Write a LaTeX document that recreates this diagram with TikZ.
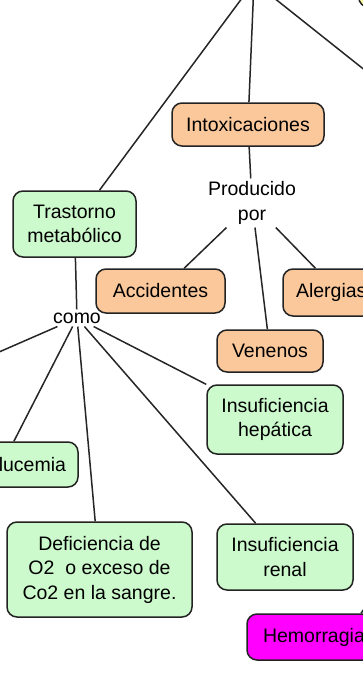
\documentclass[tikz,border=0pt]{standalone}
\usepackage{fontspec}
\setmainfont{Liberation Sans}
\definecolor{peach}{RGB}{250,200,155}
\definecolor{mint}{RGB}{204,250,204}
\definecolor{mag}{RGB}{255,0,255}
\definecolor{pale}{RGB}{255,252,160}
\definecolor{edge}{RGB}{35,35,35}
\tikzset{
  box/.style={draw=edge, line width=1.5pt, rounded corners=10pt, inner sep=0pt, align=center},
  pbox/.style={box, fill=peach},
  gbox/.style={box, fill=mint},
  mbox/.style={box, fill=mag},
  ybox/.style={box, fill=pale},
  lbl/.style={inner sep=3pt, align=center},
  conn/.style={draw=black!85, line width=1.5pt},
}
\begin{document}
\begin{tikzpicture}[x=1pt, y=-1pt, font=\fontsize{19.5}{24.5}\selectfont]
\useasboundingbox (0,0) rectangle (363,686);
\clip (0,0) rectangle (363,686);
\fill[white] (0,0) rectangle (363,686);

% off-image anchors
\coordinate (topc) at (254,-18);
\coordinate (offr) at (420,114);
\coordinate (offl) at (-150,417);
\coordinate (offh) at (372,598);

% nodes
\node[ybox, minimum width=80pt, minimum height=50pt, anchor=south west] (topr) at (358,8) {};
\node[pbox, minimum width=152pt, minimum height=43pt] (intox) at (248,124.5) {Intoxicaciones};
\node[gbox, minimum width=123pt, minimum height=66pt] (tras) at (74.5,224) {Trastorno\\metabólico};
\node[lbl] (prod) at (252,203) {Producido\\por};
\node[pbox, minimum width=129pt, minimum height=44pt] (acc) at (160.5,291) {Accidentes};
\node[pbox, minimum width=112pt, minimum height=47pt, text width=86pt, align=left] (aler) at (339,292.5) {Alergias};
\node[pbox, minimum width=106pt, minimum height=42pt] (ven) at (270,351) {Venenos};
\node[lbl] (como) at (77,318) {como};
\node[gbox, minimum width=136pt, minimum height=69pt] (hep) at (275,419.5) {Insuficiencia\\hepática};
\node[gbox, minimum width=152pt, minimum height=45pt, text width=128pt, align=right] (glu) at (2,464.5) {lucemia};
\node[gbox, minimum width=185pt, minimum height=95pt] (def) at (99.5,569.5) {Deficiencia de\\O2~ o exceso de\\Co2 en la sangre.};
\node[gbox, minimum width=136pt, minimum height=66pt] (ren) at (285,557) {Insuficiencia\\renal};
\node[mbox, minimum width=134pt, minimum height=46pt, text width=102pt, align=left] (hem) at (314,637) {Hemorragia};

% connectors
\draw[conn] (topc) -- (tras);
\draw[conn] (topc) -- (intox);
\draw[conn] (topc) -- (offr);
\draw[conn] (intox) -- (prod);
\draw[conn] (prod) -- (acc);
\draw[conn] (prod) -- (ven);
\draw[conn] (prod) -- (aler);
\draw[conn] (tras) -- (como);
\draw[conn] (como) -- (offl);
\draw[conn] (como) -- (glu);
\draw[conn] (como) -- (def);
\draw[conn] (como) -- (ren);
\draw[conn] (como) -- (hep);
\draw[conn] (offh) -- ([xshift=47pt]hem.north);
\end{tikzpicture}
\end{document}
